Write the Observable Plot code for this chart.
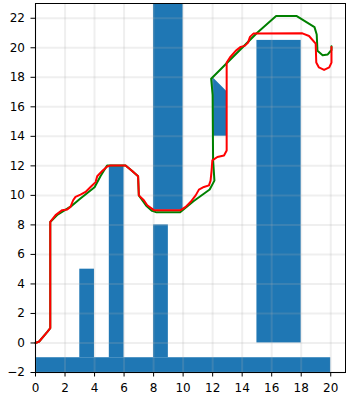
<!DOCTYPE html>
<html>
<head>
<meta charset="utf-8">
<script src="https://cdn.jsdelivr.net/npm/d3@7"></script>
<script src="https://cdn.jsdelivr.net/npm/@observablehq/plot@0.6"></script>
<style>
  html, body { margin: 0; padding: 0; background: #fff; }
</style>
</head>
<body>
<div id="chart"></div>
<script>
// Obstacles (rectangles)
const obsX1 = [0, 3, 5, 8, 8, 15];
const obsX2 = [20, 4, 6, 9, 10, 18];
const obsY1 = [-2, -1, -1, -1, 9, 0];
const obsY2 = [-1, 5, 12, 8, 23, 20.5];

// Slanted obstacle (polygon between x=12 and x=13)
const polyX = [12, 13];
const polyBottom = [14, 14];
const polyTop = [18, 17];

// Green path
const greenX = [0, 0.25, 0.8, 1.0, 1.0, 1.5, 2.4, 3.0, 4.0, 4.4, 4.85, 6.1, 6.55, 6.95, 7.0, 7.5, 7.9, 8.2, 9.8, 10.7, 11.8, 12.12, 12.03, 12.0, 11.9, 15.0, 16.3, 17.7, 18.9, 19.05, 19.1, 19.45, 19.8, 20.05, 20.05];
const greenY = [0, 0.1, 0.75, 1.0, 8.2, 8.7, 9.25, 9.75, 10.55, 11.3, 12.02, 12.02, 11.65, 11.3, 10.0, 9.3, 8.95, 8.85, 8.85, 9.6, 10.4, 11.0, 12.4, 16.8, 17.9, 21.0, 22.15, 22.15, 21.4, 20.9, 19.8, 19.5, 19.55, 19.85, 20.1];

// Red path
const redX = [0, 0.25, 0.8, 1.0, 1.0, 1.36, 1.81, 2.15, 2.37, 2.55, 2.71, 3.05, 3.39, 3.73, 4.07, 4.18, 4.52, 4.86, 5.08, 6.1, 6.55, 6.95, 7.0, 7.34, 7.57, 8.02, 9.83, 10.17, 10.5, 10.85, 11.07, 11.41, 11.75, 11.86, 11.93, 11.98, 12.32, 12.77, 12.95, 12.95, 13.17, 13.56, 13.9, 14.17, 14.4, 14.53, 14.76, 18.08, 18.53, 18.98, 19.02, 19.2, 19.55, 19.9, 20.05, 20.05];
const redY = [0, 0.1, 0.75, 1.0, 8.2, 8.66, 9.0, 9.05, 9.22, 9.67, 9.9, 10.05, 10.23, 10.57, 10.9, 11.3, 11.65, 11.96, 12.02, 12.02, 11.65, 11.3, 10.0, 9.67, 9.33, 9.0, 9.0, 9.22, 9.55, 10.0, 10.39, 10.57, 10.68, 11.0, 11.7, 12.37, 12.6, 12.7, 13.04, 19.0, 19.34, 19.79, 20.06, 20.13, 20.35, 20.74, 20.96, 20.98, 20.8, 20.28, 19.0, 18.67, 18.5, 18.67, 19.0, 20.06];

// Ticks
const xTicks = [0, 2, 4, 6, 8, 10, 12, 14, 16, 18, 20];
const yTicks = [-2, 0, 2, 4, 6, 8, 10, 12, 14, 16, 18, 20, 22];

const rects = obsX1.map((x1, i) => ({x1, x2: obsX2[i], y1: obsY1[i], y2: obsY2[i]}));
const poly = polyX.map((x, i) => ({x, y1: polyBottom[i], y2: polyTop[i]}));
const green = greenX.map((x, i) => ({x, y: greenY[i]}));
const red = redX.map((x, i) => ({x, y: redY[i]}));

const fmt = d => d < 0 ? "\u2212" + Math.abs(d) : String(d);
const blue = "#1f77b4";

const chart = Plot.plot({
  width: 352,
  height: 404,
  marginLeft: 35,
  marginRight: 7,
  marginTop: 3,
  marginBottom: 32,
  style: {fontFamily: "DejaVu Sans", fontSize: "12px", color: "#000", background: "#fff"},
  x: {domain: [0, 21]},
  y: {domain: [-2, 23]},
  marks: [
    Plot.rect(rects, {x1: "x1", x2: "x2", y1: "y1", y2: "y2", fill: blue}),
    Plot.areaY(poly, {x: "x", y1: "y1", y2: "y2", fill: blue}),
    Plot.gridX(xTicks, {stroke: "#b0b0b0", strokeOpacity: 0.2, strokeWidth: 2}),
    Plot.gridY(yTicks, {stroke: "#b0b0b0", strokeOpacity: 0.2, strokeWidth: 2}),
    Plot.line(green, {x: "x", y: "y", stroke: "green", strokeWidth: 2, strokeLinejoin: "round"}),
    Plot.line(red, {x: "x", y: "y", stroke: "red", strokeWidth: 2, strokeLinejoin: "round"}),
    Plot.axisX(xTicks, {tickSize: 4.5, tickPadding: 6, tickFormat: fmt, label: null, stroke: "#000", fill: "#000", fontSize: 12}),
    Plot.axisY(yTicks, {tickSize: 4.5, tickPadding: 6, tickFormat: fmt, label: null, stroke: "#000", fill: "#000", fontSize: 12}),
    Plot.frame({stroke: "#000", strokeWidth: 1})
  ]
});
document.getElementById("chart").appendChild(chart);
</script>
</body>
</html>
